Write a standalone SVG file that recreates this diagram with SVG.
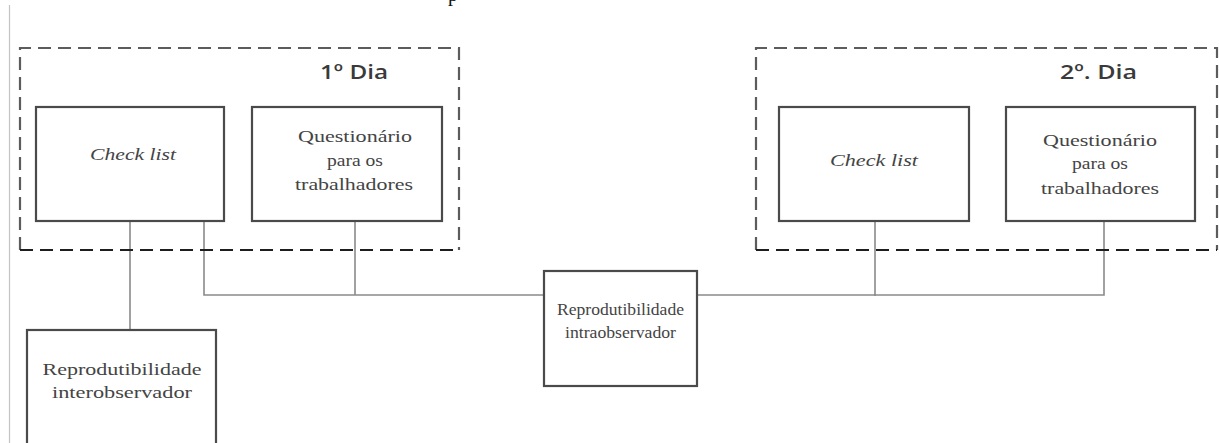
<svg xmlns="http://www.w3.org/2000/svg" width="1219" height="443" viewBox="0 0 1219 443">
  <style>
    .page { fill: #ffffff; }
    .margin { stroke: #c4c4c4; stroke-width: 1.2; fill: none; }
    .day { fill: none; stroke: #5c5c5c; stroke-width: 2.2; stroke-dasharray: 13 7; }
    .day-bottom { fill: none; stroke: #1e1e1e; stroke-width: 2.2; stroke-dasharray: 13 7; }
    .box { fill: #ffffff; stroke: #4a4a4a; stroke-width: 2.2; }
    .link { fill: none; stroke: #8a8a8a; stroke-width: 1.6; }
    .title { font-family: "Open Sans", "Liberation Sans", sans-serif; font-weight: 600; font-size: 20px; fill: #3a3a3a; }
    .label { font-family: "Liberation Serif", "Times New Roman", serif; font-size: 17px; fill: #444444; text-anchor: middle; }
    .italic { font-style: italic; }
  </style>

  <rect class="page" x="0" y="0" width="1219" height="443"/>
  <line class="margin" x1="9.5" y1="5" x2="9.5" y2="443"/>
  <text x="448" y="0.5" font-family="Liberation Serif, serif" font-size="20" fill="#111">p</text>

  <!-- connectors -->
  <g id="connectors">
    <line class="link" x1="130" y1="221" x2="130" y2="330"/>
    <polyline class="link" points="204,221 204,295 544,295"/>
    <line class="link" x1="355" y1="221" x2="355" y2="295"/>
    <polyline class="link" points="697,295 1104,295 1104,221"/>
    <line class="link" x1="875" y1="221" x2="875" y2="296"/>
  </g>

  <!-- first day group -->
  <g id="day1">
    <polyline class="day" points="20,250 20,48 459,48 459,250"/>
    <line class="day-bottom" x1="20" y1="250" x2="459" y2="250"/>
    <text class="title" x="320" y="79" textLength="68" lengthAdjust="spacingAndGlyphs">1º Dia</text>
  </g>

  <g id="checklist1">
    <rect class="box" x="36" y="107" width="188" height="114"/>
    <text class="label italic" x="133" y="160" textLength="86" lengthAdjust="spacingAndGlyphs">Check list</text>
  </g>

  <g id="questionario1">
    <rect class="box" x="252" y="107" width="190" height="114"/>
    <text class="label" x="355" y="142" textLength="114" lengthAdjust="spacingAndGlyphs">Questionário</text>
    <text class="label" x="355" y="166" textLength="56" lengthAdjust="spacingAndGlyphs">para os</text>
    <text class="label" x="354" y="190" textLength="118" lengthAdjust="spacingAndGlyphs">trabalhadores</text>
  </g>

  <!-- second day group -->
  <g id="day2">
    <polyline class="day" points="756,250 756,48 1217,48 1217,250"/>
    <line class="day-bottom" x1="756" y1="250" x2="1217" y2="250"/>
    <text class="title" x="1060" y="79" textLength="77" lengthAdjust="spacingAndGlyphs">2º. Dia</text>
  </g>

  <g id="checklist2">
    <rect class="box" x="779" y="107" width="190" height="114"/>
    <text class="label italic" x="874" y="166" textLength="88" lengthAdjust="spacingAndGlyphs">Check list</text>
  </g>

  <g id="questionario2">
    <rect class="box" x="1006" y="107" width="189" height="114"/>
    <text class="label" x="1100" y="146" textLength="114" lengthAdjust="spacingAndGlyphs">Questionário</text>
    <text class="label" x="1100" y="169" textLength="56" lengthAdjust="spacingAndGlyphs">para os</text>
    <text class="label" x="1100" y="194" textLength="118" lengthAdjust="spacingAndGlyphs">trabalhadores</text>
  </g>

  <!-- reproducibility outcomes -->
  <g id="interobservador">
    <rect class="box" x="27" y="330" width="189" height="125"/>
    <text class="label" x="122" y="375" textLength="159" lengthAdjust="spacingAndGlyphs">Reprodutibilidade</text>
    <text class="label" x="122" y="398" textLength="140" lengthAdjust="spacingAndGlyphs">interobservador</text>
  </g>

  <g id="intraobservador">
    <rect class="box" x="544" y="271" width="153" height="115"/>
    <text class="label" x="620.5" y="315" textLength="127" lengthAdjust="spacingAndGlyphs">Reprodutibilidade</text>
    <text class="label" x="620.5" y="338" textLength="111" lengthAdjust="spacingAndGlyphs">intraobservador</text>
  </g>
</svg>
